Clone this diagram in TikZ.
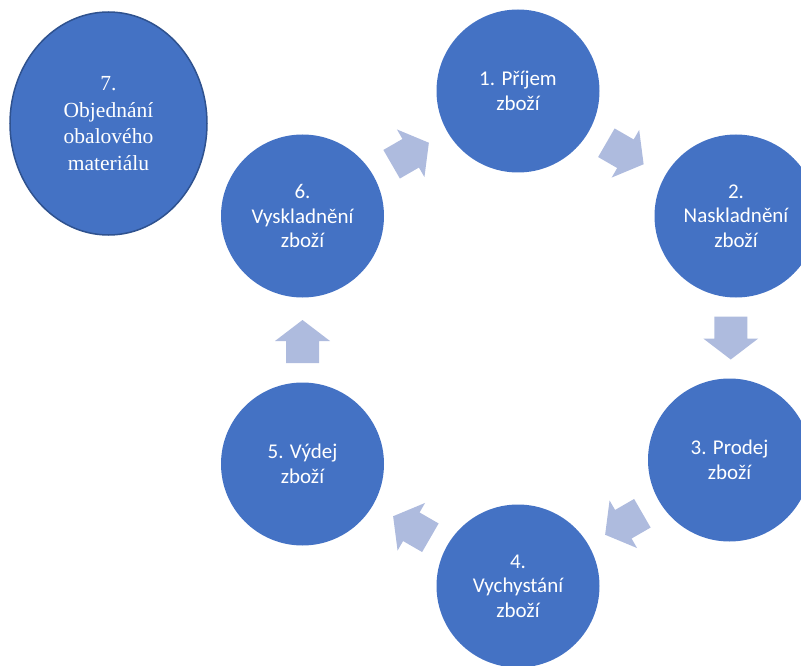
\documentclass[tikz,border=0pt]{standalone}
\usepackage{fontspec}
\setmainfont{Carlito}
\newfontfamily\serifface{Liberation Serif}
\usetikzlibrary{calc,shapes.geometric}

\definecolor{stepblue}{HTML}{4472C4}
\definecolor{stepedge}{HTML}{2F528F}
\definecolor{arrowfill}{RGB}{174,187,222}

\tikzset{
  stepcircle/.style={circle, fill=stepblue, draw=none, minimum size=163pt,
    inner sep=0pt, text=white, align=center,
    font=\fontsize{21pt}{24.5pt}\selectfont},
  orderoval/.style={ellipse, fill=stepblue, draw=stepedge, line width=1.5pt,
    minimum width=197pt, minimum height=223pt, inner sep=0pt, text=white,
    align=center, font=\serifface\fontsize{21.5pt}{26.5pt}\selectfont},
  blockarrow/.pic={
    \fill[arrowfill] (-21.5,-16.5) -- (0.5,-16.5) -- (0.5,-27.5) -- (21.5,0)
      -- (0.5,27.5) -- (0.5,16.5) -- (-21.5,16.5) -- cycle;
  }
}

\begin{document}
\begin{tikzpicture}[x=1pt,y=-1pt]
  \useasboundingbox (0,0) rectangle (801,666);
  \clip (0,0) rectangle (801,666);

  % cycle steps
  \node[stepcircle] (c1) at (518,91)    {1. Příjem\\zboží};
  \node[stepcircle] (c2) at (736,216)   {2.\\Naskladnění\\zboží};
  \node[stepcircle] (c3) at (729.5,460) {3. Prodej\\zboží};
  \node[stepcircle] (c4) at (518,586)   {4.\\Vychystání\\zboží};
  \node[stepcircle] (c5) at (302.5,464) {5. Výdej\\zboží};
  \node[stepcircle] (c6) at (302.5,216) {6.\\Vyskladnění\\zboží};

  % separate step
  \node[orderoval] (c7) at (108.5,123.5) {7.\\Objednání\\obalového\\materiálu};

  % block arrows between consecutive steps
  \pic[rotate=30]   (a61) at ($(c6)!0.5!(c1)$) {blockarrow};
  \pic[rotate=-30]  (a12) at ($(c1)!0.5!(c2)+(-2,0)$) {blockarrow};
  \pic[rotate=-90]  (a23) at ($(c2)!0.5!(c3)+(-2,0)$) {blockarrow};
  \pic[rotate=-150] (a34) at ($(c3)!0.5!(c4)+(0,1)$) {blockarrow};
  \pic[rotate=150]  (a45) at ($(c4)!0.5!(c5)+(1.5,2)$) {blockarrow};
  \pic[rotate=90]   (a56) at ($(c5)!0.5!(c6)+(0,1.5)$) {blockarrow};
\end{tikzpicture}
\end{document}
